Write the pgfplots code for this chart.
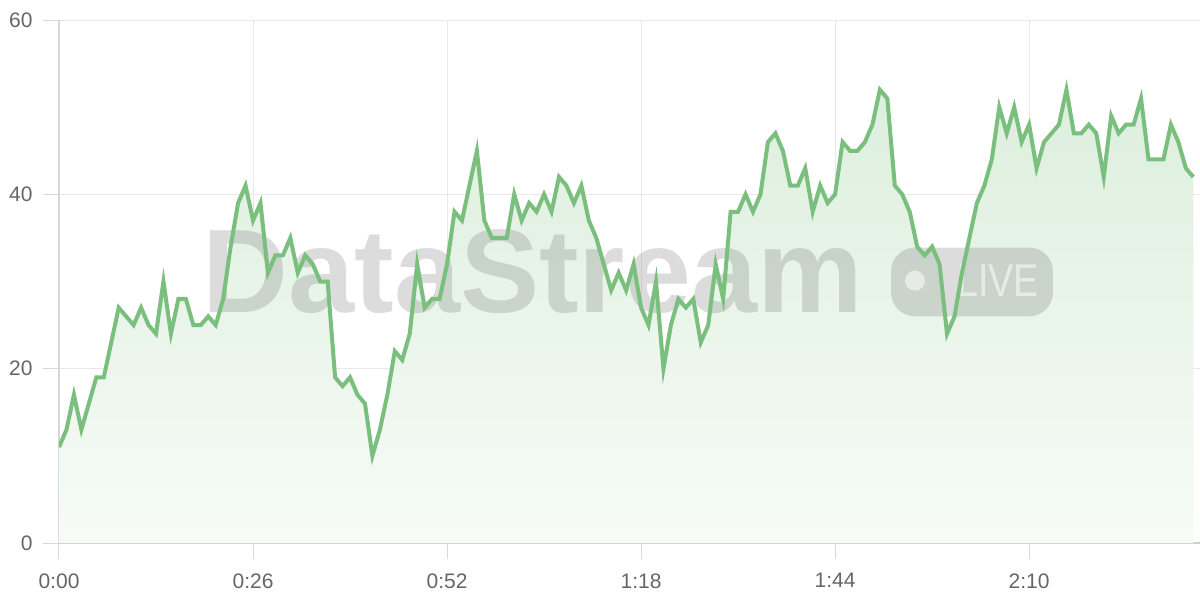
\documentclass[border=0pt]{standalone}
\usepackage{fontspec}
\setmainfont{Liberation Sans}
\usepackage{pgfplots}
\usepackage{pgfplotstable}
\pgfplotsset{compat=1.18}
\definecolor{linegreen}{RGB}{122,191,125}
\definecolor{filltop}{RGB}{220,239,221}
\definecolor{fillbot}{RGB}{247,251,247}
\definecolor{gridgray}{RGB}{232,232,232}
\definecolor{leftgray}{RGB}{215,215,215}
\definecolor{axisgray}{RGB}{205,207,205}
\definecolor{labelgray}{RGB}{102,102,102}
\definecolor{wmgray}{RGB}{128,128,128}

\pgfplotstableread{
t v
0 11
1 13
2 17
3 13
4 16
5 19
6 19
7 23
8 27
9 26
10 25
11 27
12 25
13 24
14 30
15 24
16 28
17 28
18 25
19 25
20 26
21 25
22 28
23 34
24 39
25 41
26 37
27 39
28 31
29 33
30 33
31 35
32 31
33 33
34 32
35 30
36 30
37 19
38 18
39 19
40 17
41 16
42 10
43 13
44 17
45 22
46 21
47 24
48 32
49 27
50 28
51 28
52 32
53 38
54 37
55 41
56 45
57 37
58 35
59 35
60 35
61 40
62 37
63 39
64 38
65 40
66 38
67 42
68 41
69 39
70 41
71 37
72 35
73 32
74 29
75 31
76 29
77 32
78 27
79 25
80 30
81 20
82 25
83 28
84 27
85 28
86 23
87 25
88 32
89 28
90 38
91 38
92 40
93 38
94 40
95 46
96 47
97 45
98 41
99 41
100 43
101 38
102 41
103 39
104 40
105 46
106 45
107 45
108 46
109 48
110 52
111 51
112 41
113 40
114 38
115 34
116 33
117 34
118 32
119 24
120 26
121 31
122 35
123 39
124 41
125 44
126 50
127 47
128 50
129 46
130 48
131 43
132 46
133 47
134 48
135 52
136 47
137 47
138 48
139 47
140 42
141 49
142 47
143 48
144 48
145 51
146 44
147 44
148 44
149 48
150 46
151 43
152 42
}\datatable

\begin{document}
\begin{tikzpicture}
\path[use as bounding box] (-29.5pt,-28.5pt) rectangle (570.5pt,271.5pt);
\begin{axis}[
  at={(0pt,0pt)}, anchor=south west,
  scale only axis, width=570.5pt, height=261.5pt,
  xmin=0, xmax=152.9, ymin=0, ymax=60,
  axis x line*=bottom, axis y line*=left,
  xtick={0,26,52,78,104,130},
  xticklabels={0:00,0:26,0:52,1:18,1:44,2:10},
  ytick={0,20,40,60},
  grid=major, grid style={gridgray, line width=0.5pt},
  tick align=outside, major tick length=8pt,
  tick style={leftgray, line width=0.5pt},
  x axis line style={axisgray, line width=1pt, -},
  y axis line style={leftgray, line width=0.75pt, -},
  tick label style={font=\fontsize{10.5pt}{12pt}\selectfont, text=labelgray},
  /pgf/number format/assume math mode=true,
  xticklabel style={anchor=north, inner sep=0pt, yshift=-7pt},
  yticklabel style={anchor=east, inner sep=0pt, xshift=-5pt},
]
\addplot[draw=none, shading=axis, top color=filltop, bottom color=fillbot] table[x=t, y=v] {\datatable} \closedcycle;

\node[anchor=base west, inner sep=0pt, text=wmgray, opacity=0.28,
  font=\fontsize{59.4pt}{60pt}\selectfont\bfseries] at (axis cs:19.2,26.4) {DataStream};
\fill[wmgray, opacity=0.28, rounded corners=12pt] (axis cs:111.5,26.0) rectangle (axis cs:133.2,33.9);
\fill[white, opacity=0.55] (axis cs:114.7,30.1) circle[radius=5pt];
\node[anchor=base west, inner sep=0pt, text=white, opacity=0.55, xscale=0.82,
  font=\fontsize{23pt}{24pt}\selectfont] at (axis cs:120.3,28.3) {LIVE};

\addplot[linegreen, line width=2pt, line join=miter] table[x=t, y=v] {\datatable};
\end{axis}
\end{tikzpicture}
\end{document}
